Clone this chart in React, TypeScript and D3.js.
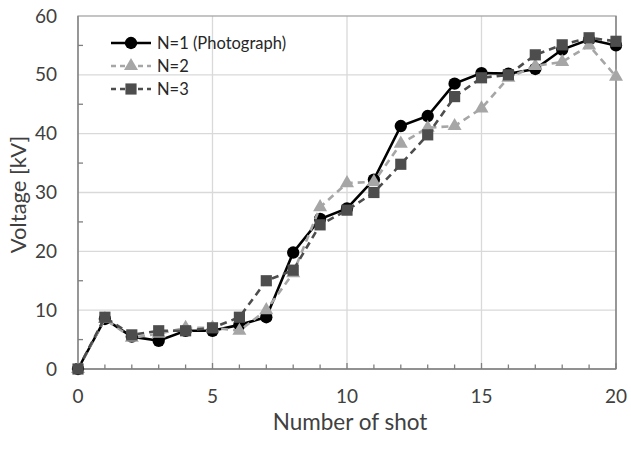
import React, { useEffect, useRef } from 'react';
import * as d3 from 'd3';

const shots = d3.range(0, 21);
const n1 = [0, 8.5, 5.5, 4.8, 6.5, 6.5, 7.5, 8.8, 19.8, 25.5, 27.3, 32.2, 41.3, 43.0, 48.5, 50.3, 50.2, 51.0, 54.3, 56.0, 55.0];
const n2 = [0, 8.5, 5.3, 6.0, 7.0, 7.0, 6.5, 10.0, 16.3, 27.5, 31.6, 31.8, 38.3, 41.0, 41.3, 44.3, 49.5, 51.5, 52.2, 55.0, 49.7];
const n3 = [0, 8.8, 5.8, 6.5, 6.5, 7.0, 8.8, 15.0, 16.8, 24.5, 27.0, 30.0, 34.8, 39.8, 46.3, 49.5, 50.0, 53.4, 55.1, 56.3, 55.7];
const seriesNames = ['N=1 (Photograph)', 'N=2', 'N=3'];
const xTicks = [0, 5, 10, 15, 20];
const yTicks = [0, 10, 20, 30, 40, 50, 60];

const FONT = 'Lato, "Open Sans", sans-serif';

const App = () => {
  const svgRef = useRef<SVGSVGElement>(null);

  useEffect(() => {
    const svg = d3.select(svgRef.current);
    svg.selectAll('*').remove();

    const width = 631;
    const height = 458;
    const margin = { top: 16, right: 15, bottom: 89, left: 78 };
    const innerWidth = width - margin.left - margin.right;
    const innerHeight = height - margin.top - margin.bottom;

    const g = svg.append('g').attr('transform', `translate(${margin.left},${margin.top})`);

    const x = d3.scaleLinear().domain([0, 20]).range([0, innerWidth]);
    const y = d3.scaleLinear().domain([0, 60]).range([innerHeight, 0]);

    // gridlines
    g.selectAll('.vgrid')
      .data(xTicks.slice(1, -1))
      .enter()
      .append('line')
      .attr('x1', d => x(d))
      .attr('x2', d => x(d))
      .attr('y1', 0)
      .attr('y2', innerHeight)
      .attr('stroke', '#d9d9d9')
      .attr('stroke-width', 1.3);

    g.selectAll('.hgrid')
      .data(yTicks.slice(1, -1))
      .enter()
      .append('line')
      .attr('x1', 0)
      .attr('x2', innerWidth)
      .attr('y1', d => y(d))
      .attr('y2', d => y(d))
      .attr('stroke', '#d9d9d9')
      .attr('stroke-width', 1.3);

    // frame
    g.append('rect')
      .attr('width', innerWidth)
      .attr('height', innerHeight)
      .attr('fill', 'none')
      .attr('stroke', '#a6a6a6')
      .attr('stroke-width', 1.3);
    g.append('line')
      .attr('x1', 0).attr('x2', 0).attr('y1', 0).attr('y2', innerHeight)
      .attr('stroke', '#7f7f7f').attr('stroke-width', 1.3);
    g.append('line')
      .attr('x1', 0).attr('x2', innerWidth).attr('y1', innerHeight).attr('y2', innerHeight)
      .attr('stroke', '#7f7f7f').attr('stroke-width', 1.3);
    g.append('line')
      .attr('x1', innerWidth).attr('x2', innerWidth).attr('y1', 0).attr('y2', innerHeight)
      .attr('stroke', '#7f7f7f').attr('stroke-width', 1.3);

    // x ticks (inside)
    g.selectAll('.xtick')
      .data(shots.slice(1))
      .enter()
      .append('line')
      .attr('x1', d => x(d))
      .attr('x2', d => x(d))
      .attr('y1', innerHeight)
      .attr('y2', d => innerHeight - (d % 5 === 0 ? 6 : 4.5))
      .attr('stroke', '#7f7f7f')
      .attr('stroke-width', 1.3);

    // y minor ticks (inside)
    g.selectAll('.ytick')
      .data(d3.range(5, 60, 10))
      .enter()
      .append('line')
      .attr('x1', 0)
      .attr('x2', 5)
      .attr('y1', d => y(d))
      .attr('y2', d => y(d))
      .attr('stroke', '#7f7f7f')
      .attr('stroke-width', 1.3);

    // tick labels
    g.selectAll('.xlabel')
      .data(xTicks)
      .enter()
      .append('text')
      .attr('x', d => x(d))
      .attr('y', innerHeight + 34)
      .attr('text-anchor', 'middle')
      .style('font-family', FONT)
      .style('font-size', '19px')
      .style('fill', '#404040')
      .text(d => d);

    g.selectAll('.ylabel')
      .data(yTicks)
      .enter()
      .append('text')
      .attr('x', -21)
      .attr('y', d => y(d))
      .attr('dy', '0.35em')
      .attr('text-anchor', 'end')
      .style('font-family', FONT)
      .style('font-size', '19px')
      .style('fill', '#404040')
      .text(d => d);

    // axis titles
    g.append('text')
      .attr('x', innerWidth / 2 + 3)
      .attr('y', innerHeight + 61)
      .attr('text-anchor', 'middle')
      .style('font-family', FONT)
      .style('font-size', '22.5px')
      .style('fill', '#404040')
      .text('Number of shot');

    g.append('text')
      .attr('transform', `translate(-52,${innerHeight / 2 + 2}) rotate(-90)`)
      .attr('text-anchor', 'middle')
      .style('font-family', FONT)
      .style('font-size', '22px')
      .style('fill', '#404040')
      .text('Voltage [kV]');

    const series = [
      { name: seriesNames[0], values: n1, color: '#000000', dash: null, shape: d3.symbolCircle, size: 120 },
      { name: seriesNames[1], values: n2, color: '#a6a6a6', dash: '7,5', shape: d3.symbolTriangle, size: 85 },
      { name: seriesNames[2], values: n3, color: '#4d4d4d', dash: '7,5', shape: d3.symbolSquare, size: 125 },
    ];

    const line = d3.line<number>()
      .x((_, i) => x(shots[i]))
      .y(d => y(d));

    series.forEach(s => {
      g.append('path')
        .datum(s.values)
        .attr('d', line)
        .attr('fill', 'none')
        .attr('stroke', s.color)
        .attr('stroke-width', 2.6)
        .attr('stroke-dasharray', s.dash);

      g.selectAll(null)
        .data(s.values)
        .enter()
        .append('path')
        .attr('d', d3.symbol().type(s.shape).size(s.size))
        .attr('transform', (d, i) => `translate(${x(shots[i])},${y(d)})`)
        .attr('fill', s.color);
    });

    // legend
    const legend = g.append('g').attr('transform', 'translate(33, 27)');
    series.forEach((s, i) => {
      const item = legend.append('g').attr('transform', `translate(0, ${i * 23})`);
      item.append('line')
        .attr('x1', 0)
        .attr('x2', 40)
        .attr('y1', 0)
        .attr('y2', 0)
        .attr('stroke', s.color)
        .attr('stroke-width', 2.6)
        .attr('stroke-dasharray', s.dash ? '5,4' : null);
      item.append('path')
        .attr('d', d3.symbol().type(s.shape).size(s.size)())
        .attr('transform', 'translate(20,0)')
        .attr('fill', s.color);
      item.append('text')
        .attr('x', 46)
        .attr('y', 0)
        .attr('dy', '0.35em')
        .style('font-family', FONT)
        .style('font-size', '16.5px')
        .style('fill', '#262626')
        .text(s.name);
    });
  }, []);

  return (
    <svg
      ref={svgRef}
      width={631}
      height={458}
      style={{ position: 'absolute', left: 0, top: 0, background: '#fff' }}
    />
  );
};

export default App;
